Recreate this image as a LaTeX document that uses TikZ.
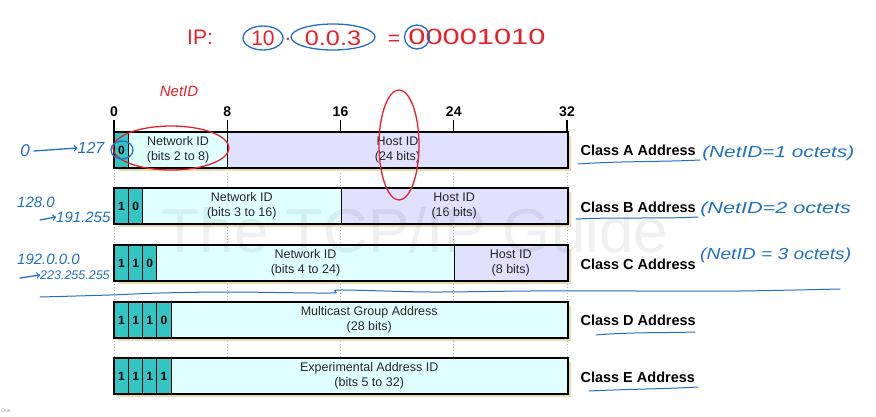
\documentclass[tikz,border=0pt]{standalone}
\usepackage{fontspec}
\setmainfont{Liberation Sans}
\definecolor{teal1}{HTML}{33C4C4}
\definecolor{netc}{HTML}{E0FFFF}
\definecolor{hostc}{HTML}{E0E0FF}
\definecolor{shadowc}{HTML}{E6DDB2}
\definecolor{penblue}{HTML}{1F6FC4}
\definecolor{penred}{HTML}{E8202A}
\tikzset{
  fieldbox/.style={draw=black, line width=0.8pt, inner sep=0pt, minimum height=35pt,
    align=center, font=\fontsize{12.5}{15}\selectfont, text=black!85},
  bitbox/.style={fieldbox, fill=teal1, font=\bfseries\fontsize{12}{14}\selectfont, text=black},
  classlbl/.style={anchor=west, font=\bfseries\fontsize{14.5}{16}\selectfont},
  ticknum/.style={font=\bfseries\fontsize{14}{16}\selectfont},
  blueink/.style={text=penblue, font=\itshape\fontsize{15}{16}\selectfont, inner sep=0pt},
  redink/.style={text=penred, font=\fontsize{21}{22}\selectfont, inner sep=0pt},
  bluepen/.style={draw=penblue, line width=1.3pt, line cap=round},
  redpen/.style={draw=penred, line width=1.3pt, line cap=round},
}
\newcommand\fld[6]{%
  \pgfmathsetmacro\fxa{114+14.15625*#2}%
  \pgfmathsetmacro\fxb{114+14.15625*#3}%
  \pgfmathsetmacro\fwdt{\fxb-\fxa}%
  \node[#5, minimum width=\fwdt pt, anchor=north west] (#1) at (\fxa,#4) {#6};%
}
\begin{document}
\begin{tikzpicture}[x=1pt,y=-1pt]
\useasboundingbox (0,0) rectangle (876,417);
% dotted guides
\foreach \b in {0,8,16,24,32}{
  \draw[black!30, line width=1pt, dotted] ({114+14.15625*\b},167) -- ({114+14.15625*\b},358);
}
% ticks
\foreach \b in {0,8,16,24,32}{
  \node[ticknum] (t\b) at ({114+14.15625*\b},112) {\b};
  \draw[line width=1.2pt] ({114+14.15625*\b},120) -- ({114+14.15625*\b},132);
}
% shadows
\foreach \y in {132,188,245,302,358}{
  \fill[shadowc] (118,\y+4) rectangle (571,\y+39);
}
% Class A
\fld{a0}{0}{1}{132}{bitbox}{0}
\fld{anet}{1}{8}{132}{fieldbox, fill=netc}{Network ID\\(bits 2 to 8)}
\fld{ahost}{8}{32}{132}{fieldbox, fill=hostc}{Host ID\\(24 bits)}
\draw[line width=1.6pt] (a0.north west) rectangle (ahost.south east);
% Class B
\fld{b0}{0}{1}{188}{bitbox}{1}
\fld{b1}{1}{2}{188}{bitbox}{0}
\fld{bnet}{2}{16}{188}{fieldbox, fill=netc}{Network ID\\(bits 3 to 16)}
\fld{bhost}{16}{32}{188}{fieldbox, fill=hostc}{Host ID\\(16 bits)}
\draw[line width=1.6pt] (b0.north west) rectangle (bhost.south east);
% Class C
\fld{c0}{0}{1}{245}{bitbox}{1}
\fld{c1}{1}{2}{245}{bitbox}{1}
\fld{c2}{2}{3}{245}{bitbox}{0}
\fld{cnet}{3}{24}{245}{fieldbox, fill=netc}{Network ID\\(bits 4 to 24)}
\fld{chost}{24}{32}{245}{fieldbox, fill=hostc}{Host ID\\(8 bits)}
\draw[line width=1.6pt] (c0.north west) rectangle (chost.south east);
% Class D
\fld{d0}{0}{1}{302}{bitbox}{1}
\fld{d1}{1}{2}{302}{bitbox}{1}
\fld{d2}{2}{3}{302}{bitbox}{1}
\fld{d3}{3}{4}{302}{bitbox}{0}
\fld{dfld}{4}{32}{302}{fieldbox, fill=netc}{Multicast Group Address\\(28 bits)}
\draw[line width=1.6pt] (d0.north west) rectangle (dfld.south east);
% Class E
\fld{e0}{0}{1}{358}{bitbox}{1}
\fld{e1}{1}{2}{358}{bitbox}{1}
\fld{e2}{2}{3}{358}{bitbox}{1}
\fld{e3}{3}{4}{358}{bitbox}{1}
\fld{efld}{4}{32}{358}{fieldbox, fill=netc}{Experimental Address ID\\(bits 5 to 32)}
\draw[line width=1.6pt] (e0.north west) rectangle (efld.south east);
% class labels
\node[classlbl] (la) at (577,150) {Class A Address};
\node[classlbl] (lb) at (577,207) {Class B Address};
\node[classlbl] (lc) at (577,264) {Class C Address};
\node[classlbl] (ld) at (577,320) {Class D Address};
\node[classlbl] (le) at (577,377) {Class E Address};
% watermark
\node[text=black, opacity=0.06, font=\fontsize{62}{62}\selectfont] (wm) at (415,230) {The TCP/IP Guide};
% ---- handwritten annotations ----
\node[redink] (ip) at (200,37) {IP:};
\node[redink] (ten) at (263,38) {10};
\node[redink] (dot1) at (288,39) {.};
\node[redink, xscale=1.2] (ooo) at (333,38) {0.0.3};
\node[redink] (eq) at (394,40) {=};
\node[redink, font=\fontsize{22}{24}\selectfont, xscale=1.4] (bin) at (477,37) {00001010};
\draw[bluepen] (263,38) ellipse [x radius=20, y radius=12];
\draw[bluepen] (333,37) ellipse [x radius=42, y radius=13];
\draw[bluepen] (417,37) ellipse [x radius=12.5, y radius=12];
\node[redink, font=\itshape\fontsize{15}{16}\selectfont] (netid) at (179,91) {NetID};
\draw[redpen] (171,148) ellipse [x radius=58, y radius=22];
\draw[redpen] (399,145) ellipse [x radius=20, y radius=55];
\draw[bluepen] (122,150) ellipse [x radius=11, y radius=9];
\node[blueink, font=\itshape\fontsize{17}{18}\selectfont] (z0) at (25,151) {0};
\node[blueink, font=\itshape\fontsize{16}{18}\selectfont] (z127) at (91,148) {127};
\draw[bluepen, ->] (z0.east) ++(4,0) -- (z127.west);
\node[blueink, anchor=west, font=\itshape\fontsize{16}{18}\selectfont, xscale=1.3] (na) at (702,153) {(NetID=1 octets)};
\node[blueink, anchor=west, font=\itshape\fontsize{16}{18}\selectfont, xscale=1.35] (nb) at (700,209) {(NetID=2 octets};
\node[blueink, anchor=west, font=\itshape\fontsize{16}{18}\selectfont, xscale=1.2] (nc) at (700,255) {(NetID = 3 octets)};
\node[blueink, anchor=west] (b128) at (17,202) {128.0};
\node[blueink, anchor=west] (b191) at (56,217) {191.255};
\draw[bluepen, ->] (40,220) -- (b191.west);
\node[blueink, anchor=west] (c192) at (17,259) {192.0.0.0};
\node[blueink, anchor=west, font=\itshape\fontsize{12.5}{14}\selectfont] (c223) at (40,275) {223.255.255};
\draw[bluepen, ->] (20,278) -- (c223.west);
\draw[bluepen, line width=1pt] (578,164) .. controls (620,161) and (660,162) .. (700,160);
\draw[bluepen, line width=1pt] (576,219) .. controls (620,217) and (660,219) .. (698,217);
\draw[bluepen, line width=1pt] (596,335) .. controls (630,332) and (665,333) .. (695,332);
\draw[bluepen, line width=1pt] (589,391) .. controls (630,389) and (665,389) .. (698,387);
\draw[bluepen, line width=1pt] plot[smooth] coordinates {(40,297) (110,295) (160,293) (230,292) (330,293) (340,290) (430,292) (530,291) (640,291) (740,291) (840,289)};
\node[text=black!40, font=\fontsize{5}{6}\selectfont] (dun) at (6,411) {Dun};
\end{tikzpicture}
\end{document}
